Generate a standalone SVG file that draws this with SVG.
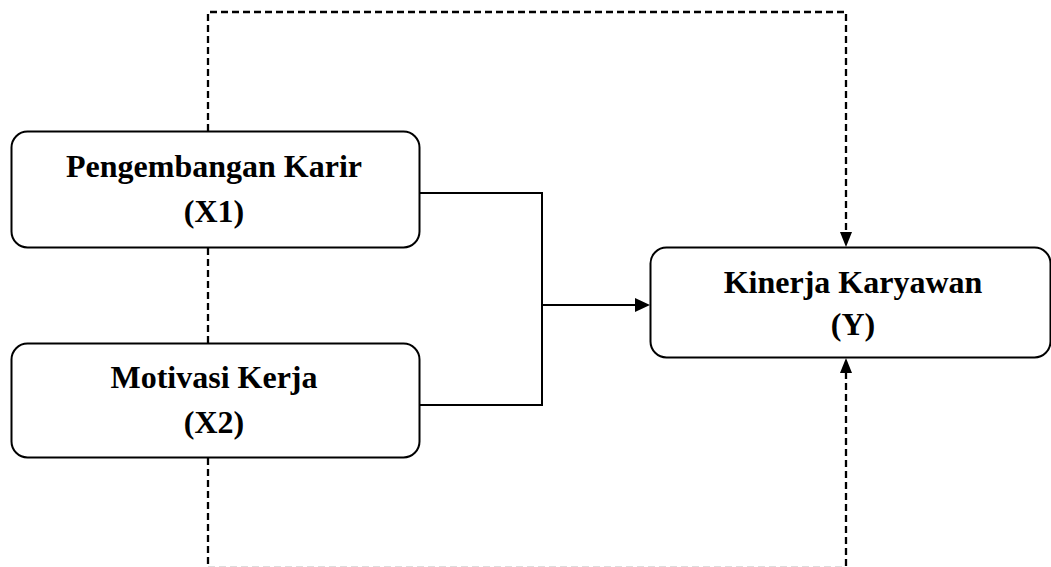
<svg xmlns="http://www.w3.org/2000/svg" width="1051" height="567" viewBox="0 0 1051 567">
<style>
.box{fill:#fff;stroke:#000;stroke-width:2}
.lbl{font-family:"Liberation Serif","Times New Roman",serif;font-weight:bold;font-size:32px;text-anchor:middle;fill:#000}
.solid{fill:none;stroke:#000;stroke-width:2}
.dash{fill:none;stroke:#000;stroke-width:2.3;stroke-dasharray:7 4}
</style>
<rect width="1051" height="567" fill="#fff"/>
<g id="connectors">
<path class="dash" d="M208,131 L208,12 L846,12 L846,233"/>
<path d="M840,232 L846,247 L852,232 Z" fill="#000"/>
<path class="dash" d="M208,248 L208,343"/>
<path class="dash" d="M208,458 L208,566"/>
<path class="dash" d="M846,566 L846,372"/>
<path d="M840,373 L846,358 L852,373 Z" fill="#000"/>
<line x1="208" y1="566.5" x2="846" y2="566.5" stroke="#ddd" stroke-width="1" stroke-dasharray="7 4"/>
<path class="solid" d="M420,193 L542,193 L542,405 L420,405"/>
<path class="solid" d="M542,305 L636,305"/>
<path d="M635,298 L650,305 L635,312 Z" fill="#000"/>
</g>
<g id="node-x1">
<rect class="box" x="11.5" y="131.5" width="408" height="116" rx="16"/>
<text class="lbl" x="214" y="177">Pengembangan Karir</text>
<text class="lbl" x="214" y="222">(X1)</text>
</g>
<g id="node-x2">
<rect class="box" x="11.5" y="343.5" width="408" height="114" rx="16"/>
<text class="lbl" x="214" y="388">Motivasi Kerja</text>
<text class="lbl" x="214" y="433">(X2)</text>
</g>
<g id="node-y">
<rect class="box" x="650.5" y="247.5" width="400" height="110" rx="16"/>
<text class="lbl" x="853" y="293">Kinerja Karyawan</text>
<text class="lbl" x="853" y="335">(Y)</text>
</g>
</svg>
